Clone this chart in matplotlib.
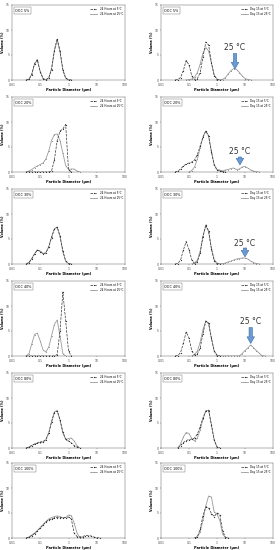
import numpy as np
import matplotlib
matplotlib.use("Agg")
import matplotlib.pyplot as plt

_ = None  # point not measured / outside the curve

## particle size classes (um)
diameter = [0.020, 0.025, 0.032, 0.040, 0.050, 0.063, 0.079, 0.100, 0.126, 0.158,
            0.200, 0.251, 0.316, 0.398, 0.501, 0.631, 0.794, 1.00, 1.26, 1.58,
            2.00, 2.51, 3.16, 3.98, 5.01, 6.31, 7.94, 10.0, 12.6, 15.8,
            20.0, 25.1, 31.6, 39.8, 50.1, 63.1]

conc_labels = ["OOC 5%", "OOC 20%", "OOC 30%", "OOC 40%", "OOC 80%", "OOC 100%"]
legend_24h = ["24 Hours at 5°C", "24 Hours at 25°C"]
legend_d15 = ["Day 15 at 5°C", "Day 15 at 25°C"]

## volume (%) - 24 hours
c5_24h_5c = [_, _, 0.0, 0.15, 1.1, 3.3, 4.1, 1.6, 0.25, 0.05, 0.4, 2.1, 5.9, 8.3, 5.8, 2.0, 0.35, 0.03, 0.0,
             _, _, _, _, _, _, _, _, _, _, _, _, _, _, _, _, _]
c5_24h_25c = [_, _, 0.0, 0.2, 1.2, 3.2, 3.9, 1.7, 0.3, 0.05, 0.45, 2.3, 5.8, 8.0, 5.6, 2.1, 0.4, 0.05, 0.0,
              _, _, _, _, _, _, _, _, _, _, _, _, _, _, _, _, _]
c20_24h_5c = [_, _, 0, 0, 0, 0, 0, 0, 0, 0, 0, 0.2, 2.4, 6.3, 8.2, 8.6, 9.5, 0.5, 0.0,
              _, _, _, _, _, _, _, _, _, _, _, _, _, _, _, _, _]
c20_24h_25c = [_, _, 0.0, 0.2, 0.5, 0.9, 1.2, 1.5, 1.8, 2.6, 4.2, 6.3, 7.5, 7.6, 6.3, 3.8, 1.3, 0.5, 0.6, 0.6,
               0.2, 0.0, _, _, _, _, _, _, _, _, _, _, _, _, _, _]
c30_24h_5c = [_, _, 0.0, 0.3, 1.0, 2.0, 2.8, 2.5, 2.0, 2.2, 3.4, 5.3, 7.0, 7.4, 5.6, 2.6, 0.6, 0.05, 0.0,
              _, _, _, _, _, _, _, _, _, _, _, _, _, _, _, _, _]
c30_24h_25c = [_, _, 0.0, 0.35, 1.1, 2.1, 2.8, 2.6, 2.1, 2.3, 3.5, 5.4, 7.0, 7.3, 5.5, 2.5, 0.6, 0.1, 0.0,
               _, _, _, _, _, _, _, _, _, _, _, _, _, _, _, _, _]
c40_24h_5c = [_, _, 0, 0, 0, 0, 0, 0, 0, 0, 0, 0, 0, 0.3, 5.0, 12.8, 7.0, 1.0, 0.0,
              _, _, _, _, _, _, _, _, _, _, _, _, _, _, _, _, _]
c40_24h_25c = [_, _, 0.0, 0.5, 2.4, 4.3, 4.6, 3.0, 1.2, 0.8, 1.8, 4.0, 6.3, 7.2, 4.0, 0.5, 0.0,
               _, _, _, _, _, _, _, _, _, _, _, _, _, _, _, _, _, _, _]
c80_24h_5c = [_, _, 0.0, 0.2, 0.5, 0.8, 1.0, 1.2, 1.3, 1.7, 3.0, 5.2, 7.1, 7.4, 5.6, 3.2, 1.8, 1.4, 1.0, 0.5,
              0.2, 0.0, _, _, _, _, _, _, _, _, _, _, _, _, _, _]
c80_24h_25c = [_, _, 0.0, 0.2, 0.5, 0.8, 1.0, 1.1, 1.2, 1.6, 3.0, 5.3, 7.2, 7.5, 5.6, 3.0, 1.7, 1.9, 2.0, 1.4,
               0.5, 0.0, _, _, _, _, _, _, _, _, _, _, _, _, _, _]
c100_24h_5c = [_, _, 0.0, 0.2, 0.5, 0.9, 1.4, 2.0, 2.6, 3.2, 3.6, 3.8, 4.0, 4.1, 4.1, 4.0, 4.1, 4.2, 3.8, 1.0,
               0.3, 0.2, 0.3, 0.5, 0.5, 0.4, 0.2, 0.05, 0.0, _, _, _, _, _, _, _]
c100_24h_25c = [_, _, 0.0, 0.2, 0.6, 1.0, 1.5, 2.1, 2.7, 3.3, 3.8, 4.1, 4.3, 4.4, 4.3, 4.0, 4.1, 4.6, 4.5, 3.0,
                1.0, 0.1, 0.0, _, _, _, _, _, _, _, _, _, _, _, _, _]

## volume (%) - day 15
c5_d15_5c = [_, _, 0.0, 0.1, 0.5, 1.9, 3.9, 3.0, 0.8, 0.1, 0.3, 1.5, 4.6, 7.6, 7.0, 3.5, 0.9, 0.1, 0.0,
             _, _, _, _, _, _, _, _, _, _, _, _, _, _, _, _, _]
c5_d15_25c = [_, _, _, _, _, _, 0.0, 0.05, 0.2, 0.6, 1.5, 3.2, 5.4, 6.5, 5.8, 3.4, 1.0, 0.2, 0.05, 0.1,
              0.5, 1.2, 1.9, 2.3, 2.1, 1.5, 0.8, 0.3, 0.1, 0.0, _, _, _, _, _, _]
c20_d15_5c = [_, _, 0.0, 0.2, 0.6, 1.2, 1.6, 1.8, 2.0, 2.4, 3.5, 5.2, 7.0, 8.2, 7.2, 4.0, 1.4, 0.4, 0.2, 0.1,
              0.0, _, _, _, _, _, _, _, _, _, _, _, _, _, _, _]
c20_d15_25c = [_, _, _, _, _, _, _, 0.0, 0.3, 1.0, 2.6, 4.9, 7.0, 8.2, 7.2, 4.2, 1.5, 0.5, 0.4, 0.2,
               0.4, 0.5, 0.7, 0.8, 0.5, 0.6, 1.0, 1.1, 0.8, 0.4, 0.2, 0.05, 0.0, _, _, _]
c30_d15_5c = [_, _, 0.0, 0.1, 0.8, 2.8, 4.5, 2.9, 0.8, 0.1, 0.5, 2.2, 5.5, 7.9, 6.6, 3.0, 0.7, 0.05, 0.0,
              _, _, _, _, _, _, _, _, _, _, _, _, _, _, _, _, _]
c30_d15_25c = [_, _, _, _, _, _, _, _, 0.0, 0.2, 0.8, 2.6, 5.6, 7.6, 6.5, 3.2, 0.9, 0.2, 0.05, 0.05,
               0.2, 0.4, 0.6, 0.8, 1.0, 1.1, 1.2, 1.2, 1.0, 0.6, 0.3, 0.1, 0.0, _, _, _]
c40_d15_5c = [_, _, 0.0, 0.1, 0.7, 2.6, 4.8, 3.6, 1.0, 0.2, 0.4, 1.6, 4.5, 7.0, 6.6, 3.6, 1.0, 0.1, 0.0,
              _, _, _, _, _, _, _, _, _, _, _, _, _, _, _, _, _]
c40_d15_25c = [_, _, _, _, _, _, _, _, 0.0, 0.3, 1.0, 2.8, 5.3, 7.0, 6.4, 3.5, 1.0, 0.2, 0.0, 0.0,
               0.0, 0.0, 0.0, 0.0, 0.0, 0.0, 0.5, 1.1, 1.6, 2.2, 1.7, 1.1, 0.6, 0.1, 0.0, _]
c80_d15_5c = [_, _, _, 0.0, 0.5, 1.1, 1.5, 1.7, 1.8, 2.0, 2.8, 4.3, 6.0, 7.4, 7.5, 4.6, 1.6, 0.2, 0.0,
              _, _, _, _, _, _, _, _, _, _, _, _, _, _, _, _, _]
c80_d15_25c = [_, _, _, 0.0, 0.8, 2.2, 3.1, 2.9, 1.9, 1.4, 2.0, 3.6, 5.8, 7.4, 7.6, 4.7, 1.6, 0.2, 0.0,
               _, _, _, _, _, _, _, _, _, _, _, _, _, _, _, _, _]
c100_d15_5c = [_, _, _, _, _, _, _, _, _, 0.0, 0.3, 1.8, 4.5, 6.2, 6.0, 4.9, 4.3, 5.0, 4.7, 1.5,
               0.1, 0.0, _, _, _, _, _, _, _, _, _, _, _, _, _, _]
c100_d15_25c = [_, _, _, _, _, _, _, _, _, 0.0, 0.2, 1.2, 3.6, 6.4, 8.4, 8.2, 5.2, 4.8, 3.5, 0.8,
                0.1, 0.0, _, _, _, _, _, _, _, _, _, _, _, _, _, _]

left_rows = [(c5_24h_5c, c5_24h_25c), (c20_24h_5c, c20_24h_25c), (c30_24h_5c, c30_24h_25c),
             (c40_24h_5c, c40_24h_25c), (c80_24h_5c, c80_24h_25c), (c100_24h_5c, c100_24h_25c)]
right_rows = [(c5_d15_5c, c5_d15_25c), (c20_d15_5c, c20_d15_25c), (c30_d15_5c, c30_d15_25c),
              (c40_d15_5c, c40_d15_25c), (c80_d15_5c, c80_d15_25c), (c100_d15_5c, c100_d15_25c)]

## "25 °C" call-outs on the day 15 panels: (x, text bottom, arrow tail, arrow tip)
arrows = {0: (4.4, 5.6, 5.3, 2.2), 1: (6.6, 3.1, 3.0, 1.4),
          2: (10.0, 3.3, 3.2, 1.4), 3: (16.0, 5.9, 5.7, 2.5)}


def draw_panel(ax, series, label, names):
    x = np.array(diameter)
    y5 = np.array(series[0], dtype=float)
    y25 = np.array(series[1], dtype=float)
    ax.plot(x, y5, color="#333333", ls="--", lw=0.5, marker="o", ms=0.9,
            mew=0, label=names[0], zorder=3)
    ax.plot(x, y25, color="#9a9a9a", ls="-", lw=0.6, marker="s", ms=0.7,
            mew=0, label=names[1], zorder=2)

    ax.set_xscale("log")
    ax.set_xlim(0.01, 100)
    ax.set_ylim(0, 15)
    ax.set_xticks([0.01, 0.1, 1, 10, 100])
    ax.set_xticklabels(["0.01", "0.1", "1", "10", "100"])
    ax.set_yticks([0, 5, 10, 15])
    ax.minorticks_off()
    ax.tick_params(labelsize=2.2, length=1, width=0.3, pad=0.8, colors="#444444")
    for s in ax.spines.values():
        s.set_linewidth(0.35)
        s.set_color("#666666")
    ax.set_xlabel("Particle Diameter (µm)", fontsize=2.5, labelpad=0.8, fontweight="bold")
    ax.set_ylabel("Volume (%)", fontsize=2.4, labelpad=0.8, fontweight="bold")
    ax.text(0.03, 0.95, label, transform=ax.transAxes, fontsize=2.4, va="top", ha="left",
            bbox=dict(facecolor="white", edgecolor="#666666", lw=0.3, pad=1.2))
    ax.legend(fontsize=2.0, frameon=False, loc="upper right", handlelength=2.6,
              borderaxespad=0.3, labelspacing=0.3)


def main():
    fig = plt.figure(figsize=(2.8, 5.5), dpi=100)
    tops = [5, 97, 189, 281, 373, 463]
    h = 75
    for r in range(6):
        b = 1 - (tops[r] + h) / 550
        axl = fig.add_axes([12 / 280, b, 113 / 280, h / 550])
        axr = fig.add_axes([161 / 280, b, 112 / 280, h / 550])
        draw_panel(axl, left_rows[r], conc_labels[r], legend_24h)
        draw_panel(axr, right_rows[r], conc_labels[r], legend_d15)

        if r in arrows:
            xa, yt, y0, y1 = arrows[r]
            axr.annotate("", xy=(xa, y1), xytext=(xa, y0),
                         arrowprops=dict(arrowstyle="simple,head_width=0.9,head_length=0.8,tail_width=0.4",
                                         mutation_scale=6, fc="#6b9bd2", ec="#3d6ea8", lw=0.4,
                                         shrinkA=0, shrinkB=0))
            axr.text(xa, yt, "25 °C", ha="center", va="bottom", fontsize=5.5, color="#333333")

    fig.savefig("out.png", dpi=100, facecolor="white")


if __name__ == '__main__':
    main()
